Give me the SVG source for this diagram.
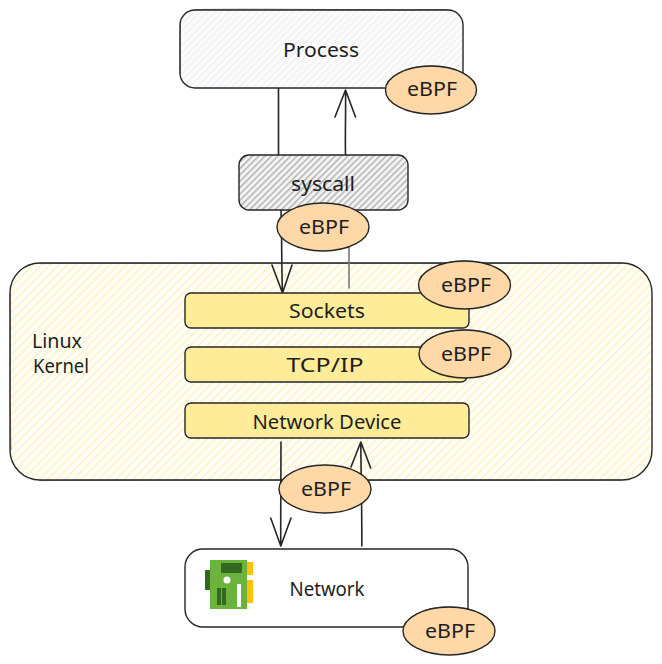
<svg xmlns="http://www.w3.org/2000/svg" width="662" height="664" viewBox="0 0 662 664">
<defs>
<pattern id="hLight" width="5" height="5" patternUnits="userSpaceOnUse" patternTransform="rotate(45)"><rect width="5" height="5" fill="#fbfbfb"/><rect width="1" height="5" fill="#eceef0"/></pattern>
<pattern id="hDark" width="4.500" height="4.500" patternUnits="userSpaceOnUse" patternTransform="rotate(45)"><rect width="4.500" height="4.500" fill="#f3f3f3"/><rect width="1.5" height="4.500" fill="#b5b5b5"/></pattern>
<pattern id="hYellow" width="6" height="6" patternUnits="userSpaceOnUse" patternTransform="rotate(45)"><rect width="6" height="6" fill="#fffef8"/><rect width="1.500" height="6" fill="#fff1c0"/></pattern>
</defs>
<style>
.o{stroke:#262626;stroke-width:1.4;stroke-linecap:round;stroke-linejoin:round}
.a{fill:none;stroke:#262626;stroke-width:1.6;stroke-linecap:round;stroke-linejoin:round}
.y{fill:#ffec99}
.e{fill:#ffd8a8}
.t{font-family:"Noto Sans","DejaVu Sans",sans-serif;fill:#1e1e1e;text-anchor:middle;font-size:19px}
.s{fill:none;stroke:#262626;stroke-width:.7;stroke-linecap:round;opacity:.75}
</style>

<g id="kernel">
<rect class="o" x="10" y="263" width="642" height="217" rx="30" fill="url(#hYellow)"/>
<path class="s" d="M40 263.600C250 262.500 450 264 622 263M11 450C9.500 390 11 330 10 293M40 480.600C250 479.500 450 481 622 480"/>
<text class="t" x="57" y="348" textLength="50" lengthAdjust="spacingAndGlyphs">Linux</text>
<text class="t" x="61" y="373" textLength="56" lengthAdjust="spacingAndGlyphs">Kernel</text>
</g>

<g id="connectors">
<path class="a" d="M278.500 88V155"/>
<path class="a" d="M345.500 155C345 130 346 110 345.500 90M335 117L345.500 90L355.500 117"/>
<path class="a" d="M281 210C282 240 281.500 270 282.500 293M272 265L282.500 293L292 265"/>
<path class="a" d="M349 212V288" style="stroke:#777"/>
<path class="a" d="M281 442C281 480 280.500 515 280.800 546M270.700 518L280.800 546L291 518"/>
<path class="a" d="M361.800 546C362 510 361 475 360.800 442M351 467L360.800 442L370.700 468"/>
</g>

<g id="process">
<rect class="o" x="180" y="10" width="283" height="78" rx="15" fill="url(#hLight)"/>
<path class="s" d="M195 9.500C280 8.500 380 10.500 448 9.500M180.500 25C179.500 45 180.500 60 180 73"/>
<text class="t" x="321" y="57" textLength="76" lengthAdjust="spacingAndGlyphs">Process</text>
</g>

<g id="syscall">
<rect class="o" x="239" y="155" width="169" height="55" rx="10" fill="url(#hDark)"/>
<text class="t" x="323" y="191" textLength="64" lengthAdjust="spacingAndGlyphs">syscall</text>
</g>

<g id="sockets">
<rect class="o y" x="185" y="293" width="284" height="35" rx="6"/>
<text class="t" x="327" y="318" textLength="76" lengthAdjust="spacingAndGlyphs">Sockets</text>
</g>

<g id="tcpip">
<rect class="o y" x="185" y="347" width="282" height="35" rx="6"/>
<text class="t" x="325" y="372" textLength="77" lengthAdjust="spacingAndGlyphs">TCP/IP</text>
</g>

<g id="network-device">
<rect class="o y" x="185" y="403" width="284" height="35" rx="6"/>
<text class="t" x="327" y="429" textLength="149" lengthAdjust="spacingAndGlyphs">Network Device</text>
</g>

<g id="network">
<rect class="o" x="185" y="549" width="283" height="78" rx="18" fill="#ffffff"/>
<rect x="205" y="570" width="5" height="20" fill="#33691e"/>
<rect x="247" y="562" width="6" height="13" fill="#ffc107"/>
<rect x="247" y="580" width="6" height="23" fill="#ffc107"/>
<rect x="210" y="560" width="37" height="49" fill="#6cb33e"/>
<rect x="221" y="563" width="21" height="10" fill="#33691e"/>
<circle cx="227" cy="580" r="3.500" fill="#ffffff"/>
<rect x="217" y="588" width="4" height="17" fill="#33691e"/>
<rect x="222" y="588" width="4" height="17" fill="#33691e"/>
<rect x="237" y="584" width="4" height="23" fill="#ffffff"/>
<text class="t" x="327" y="596" textLength="75" lengthAdjust="spacingAndGlyphs">Network</text>
</g>

<g id="ebpf-process">
<ellipse class="o e" cx="431" cy="90" rx="45.500" ry="24"/>
<path class="s" d="M386 85A46 24.500 0 0 1 476.500 87"/>
<text class="t" x="432" y="96" textLength="50" lengthAdjust="spacingAndGlyphs">eBPF</text>
</g>
<g id="ebpf-syscall">
<ellipse class="o e" cx="323" cy="227" rx="46" ry="24"/>
<text class="t" x="324" y="234" textLength="50" lengthAdjust="spacingAndGlyphs">eBPF</text>
</g>
<g id="ebpf-sockets">
<ellipse class="o e" cx="464.500" cy="285" rx="46" ry="24"/>
<path class="s" d="M419 280A46.500 24.500 0 0 1 510.500 282"/>
<text class="t" x="466" y="292" textLength="50" lengthAdjust="spacingAndGlyphs">eBPF</text>
</g>
<g id="ebpf-tcpip">
<ellipse class="o e" cx="465" cy="354" rx="46" ry="24"/>
<path class="s" d="M419.500 349A46.500 24.500 0 0 1 511 351"/>
<text class="t" x="466" y="361" textLength="50" lengthAdjust="spacingAndGlyphs">eBPF</text>
</g>
<g id="ebpf-network-device">
<ellipse class="o e" cx="325" cy="489" rx="46" ry="24"/>
<text class="t" x="326" y="496" textLength="50" lengthAdjust="spacingAndGlyphs">eBPF</text>
</g>
<g id="ebpf-network">
<ellipse class="o e" cx="449" cy="631" rx="46" ry="24"/>
<path class="s" d="M403.500 626A46.500 24.500 0 0 1 495 628"/>
<text class="t" x="450" y="638" textLength="50" lengthAdjust="spacingAndGlyphs">eBPF</text>
</g>
</svg>
